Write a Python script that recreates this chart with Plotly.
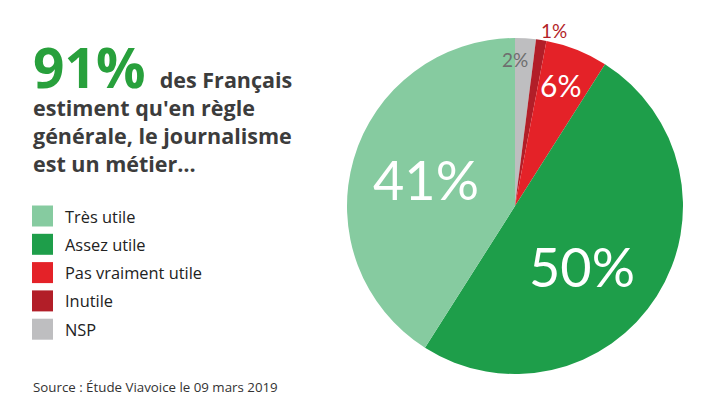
import math
import plotly.graph_objects as go

# ---- data (legend order) ----
categories = ["Très utile", "Assez utile", "Pas vraiment utile", "Inutile", "NSP"]
values = [41, 50, 6, 1, 2]
value_labels = ["41%", "50%", "6%", "1%", "2%"]

headline_value = "91%"
headline_lines = ["des Français", "estiment qu'en règle", "générale, le journalisme", "est un métier…"]
source_text = "Source : Étude Viavoice le 09 mars 2019"

# ---- style (legend order) ----
W, H = 720, 405
colors = ["#86CBA0", "#1E9E4A", "#E42228", "#B21E28", "#BEBEC0"]
label_colors = ["white", "white", "white", "#B21E28", "#6E6E6E"]
label_sizes = [54, 54, 30, 19, 19]
label_r = [0.55, 0.54, 0.77, 1.07, 0.87]
label_shift = [0.3, 9.6, -1.2, 3.5, -3.6]
PIE_FONT = "Lato"
FONT = "Open Sans"
TEXT = "#3C3C3C"

cx, cy, R = 515, 206, 168

# pie drawn clockwise from 12 o'clock: NSP, Inutile, Pas vraiment, Assez, Très
order = list(reversed(range(len(categories))))

fig = go.Figure()
fig.add_trace(go.Pie(
    labels=[categories[i] for i in order], values=[values[i] for i in order],
    sort=False, direction="clockwise", rotation=0,
    marker=dict(colors=[colors[i] for i in order], line=dict(width=0)),
    textinfo="none", hoverinfo="label+percent", showlegend=False,
    domain=dict(x=[(cx - R) / W, (cx + R) / W], y=[1 - (cy + R) / H, 1 - (cy - R) / H]),
))

def px(x, y):
    return x / W, 1 - y / H

annotations = []
total = sum(values)
cum = 0
for i in order:
    v = values[i]
    mid = (cum + v / 2) / total * 360 + label_shift[i]
    cum += v
    a = math.radians(mid)
    x = cx + R * label_r[i] * math.sin(a)
    y = cy - R * label_r[i] * math.cos(a)
    xp, yp = px(x, y)
    annotations.append(dict(x=xp, y=yp, xref="paper", yref="paper", text=value_labels[i],
                            showarrow=False, xanchor="center", yanchor="middle",
                            font=dict(family=PIE_FONT, size=label_sizes[i], color=label_colors[i])))

# headline: one multi-line text block
head = ("<b><span style='font-size:55px;color:#28A03C'>" + headline_value + " </span>"
        + headline_lines[0] + "<br>" + "<br>".join(headline_lines[1:]) + "</b>")
xp, yp = px(31, 180)
annotations.append(dict(x=xp, y=yp, xref="paper", yref="paper", text=head, align="left",
                        showarrow=False, xanchor="left", yanchor="bottom",
                        font=dict(family=FONT, size=21.5, color=TEXT)))

# legend
shapes = []
for i, c in enumerate(categories):
    yc = 216 + i * 28.3
    x0, y0 = px(32, yc - 10.5)
    x1, y1 = px(53, yc + 10.5)
    shapes.append(dict(type="rect", xref="paper", yref="paper", x0=x0, x1=x1, y0=y1, y1=y0,
                       fillcolor=colors[i], line=dict(width=0)))
    xp, yp = px(63, yc)
    annotations.append(dict(x=xp, y=yp, xref="paper", yref="paper", text=c,
                            showarrow=False, xanchor="left", yanchor="middle",
                            font=dict(family=FONT, size=16.4, color="#222222")))

xp, yp = px(31, 387)
annotations.append(dict(x=xp, y=yp, xref="paper", yref="paper", text=source_text,
                        showarrow=False, xanchor="left", yanchor="middle",
                        font=dict(family=FONT, size=13.3, color="#333333")))

fig.update_layout(width=W, height=H, margin=dict(l=0, r=0, t=0, b=0),
                  paper_bgcolor="white", plot_bgcolor="white",
                  annotations=annotations, shapes=shapes)
fig.write_html("out.html", config={"displayModeBar": False},
               post_script="document.body.style.margin='0';")
